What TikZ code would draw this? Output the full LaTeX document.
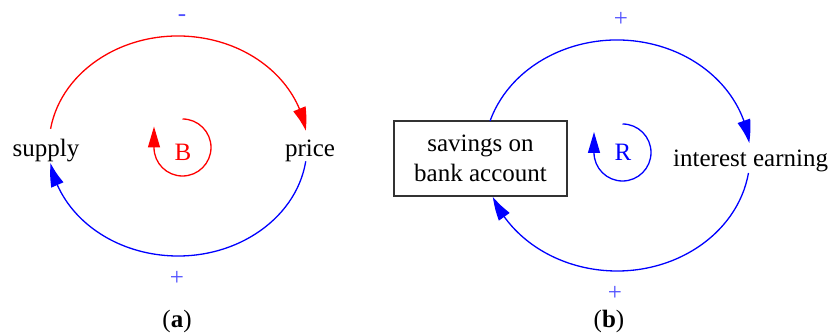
\documentclass[tikz,border=0pt]{standalone}
\usepackage{fontspec}
\setmainfont{Liberation Serif}
\usetikzlibrary{arrows.meta,bending,calc}
\definecolor{lnblue}{RGB}{0,0,255}
\definecolor{lnred}{RGB}{255,0,0}
\definecolor{signblue}{RGB}{80,80,255}
\definecolor{boxgray}{RGB}{50,50,50}
\begin{document}
\begin{tikzpicture}[x=1pt,y=1pt,
  every node/.style={font=\fontsize{25}{30}\selectfont, inner sep=0pt},
  link/.style={line width=1.3pt, -{Triangle[length=23pt,width=13pt,bend]}},
  loopar/.style={line width=1.3pt, -{Triangle[length=21pt,width=12pt]}},
  sign/.style={text=signblue},
  stockbox/.style={draw=boxgray, line width=1.3pt, minimum width=173pt, minimum height=75pt, align=center},
  caption/.style={anchor=base}]
\useasboundingbox (0,0) rectangle (833,336);
% ---------- (a) ----------
\coordinate (cL) at (178,190);
\node[anchor=base] (supply) at (46,179) {supply};
\node[anchor=base] (price) at (310,179) {price};
\draw[link, lnred] ($(cL)+(171:129 and 110)$) arc[start angle=171, end angle=8, x radius=129, y radius=110];
\draw[link, lnblue] ($(cL)+(-8:129 and 110)$) arc[start angle=-8, end angle=-171, x radius=129, y radius=110];
\node[sign] (minusA) at (182,318) {-};
\node[sign] (plusA) at (177,58) {+};
\coordinate (cB) at (182.5,188.5);
\draw[loopar, lnred] ($(cB)+(90:28.5)$) arc[start angle=90, end angle=-180, radius=28.5] -- ++(0,21);
\node[text=lnred] (B) at (183,184) {B};
\node[caption] (capA) at (177,8) {(\textbf{a})};
% ---------- (b) ----------
\coordinate (cR) at (617,180.5);
\node[stockbox] (savings) at (480.5,177.5) {savings on\\bank account};
\node[anchor=base west] (interest) at (673,169) {interest earning};
\draw[link, lnblue] ($(cR)+(162.6:133 and 115.5)$) arc[start angle=162.6, end angle=6.2, x radius=133, y radius=115.5];
\draw[link, lnblue] ($(cR)+(-8.7:133 and 115.5)$) arc[start angle=-8.7, end angle=-159, x radius=133, y radius=115.5];
\node[sign] (plusB1) at (621,317) {+};
\node[sign] (plusB2) at (615,43) {+};
\coordinate (cRl) at (622.5,183.5);
\draw[loopar, lnblue] ($(cRl)+(90:28.5)$) arc[start angle=90, end angle=-180, radius=28.5] -- ++(0,20.5);
\node[text=lnblue] (R) at (623,184) {R};
\node[caption] (capB) at (609,8) {(\textbf{b})};
\end{tikzpicture}
\end{document}
